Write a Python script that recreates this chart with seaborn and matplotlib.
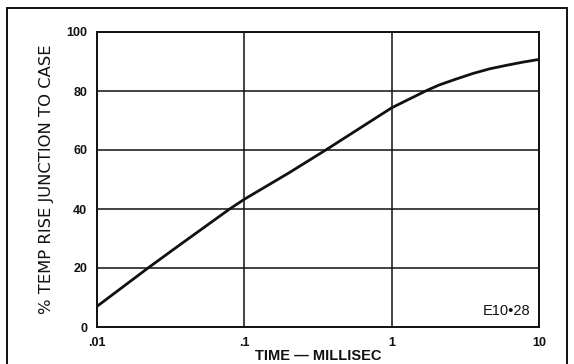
import matplotlib
matplotlib.use("Agg")
import matplotlib.pyplot as plt
import seaborn as sns
import pandas as pd
from matplotlib.patches import Rectangle

time_ms = [0.01, 0.0222, 0.035, 0.0795, 0.1, 0.2, 0.357, 1.0, 1.70, 2.09, 2.72, 3.54, 4.61, 6.0, 7.8, 10.0]
temp_rise = [7.0, 20.0, 27.2, 40.0, 43.3, 52.2, 60.0, 74.3, 80.0, 82.0, 84.0, 85.9, 87.5, 88.7, 89.8, 90.7]
x_ticks = [0.01, 0.1, 1, 10]
x_tick_labels = [".01", ".1", "1", "10"]
y_ticks = [0, 20, 40, 60, 80, 100]

sns.set_theme(style="white")
plt.rcParams['font.family'] = ['Liberation Sans', 'DejaVu Sans']

df = pd.DataFrame({"t": time_ms, "r": temp_rise})

fig = plt.figure(figsize=(5.74, 3.64), dpi=100)
ax = fig.add_axes([97/574, 1 - 327/364, (539-97)/574, (327-32)/364])

sns.lineplot(data=df, x="t", y="r", ax=ax, color="#111111", linewidth=2.0)
ax.set_xscale("log")
ax.set_xlim(0.01, 10)
ax.set_ylim(0, 100)
ax.set_xticks(x_ticks)
ax.set_xticklabels(x_tick_labels)
ax.set_yticks(y_ticks)
ax.minorticks_off()
ax.tick_params(axis="both", length=0, labelsize=9, colors="#111111")
ax.tick_params(axis="x", pad=7)
ax.tick_params(axis="y", pad=7)
for lab in ax.get_xticklabels() + ax.get_yticklabels():
    lab.set_fontweight("bold")
ax.grid(True, color="#111111", linewidth=1.1)
for s in ax.spines.values():
    s.set_color("#111111")
    s.set_linewidth(1.4)
ax.set_xlabel("TIME — MILLISEC", fontsize=10.5, fontweight="bold", color="#111111", labelpad=0)
ax.set_ylabel("% TEMP RISE JUNCTION TO CASE", fontsize=11.8, color="#111111", labelpad=9,
              fontname="DejaVu Sans")
ax.text(0.98, 0.03, "E10•28", transform=ax.transAxes, ha="right", va="bottom",
        fontsize=10.5, color="#111111")

fig.patches.append(Rectangle((7/574, -0.05), (567-7)/574, 1.05 - 8/364,
                             transform=fig.transFigure, fill=False,
                             edgecolor="#111111", linewidth=1.4))

fig.savefig("out.png", dpi=100)
